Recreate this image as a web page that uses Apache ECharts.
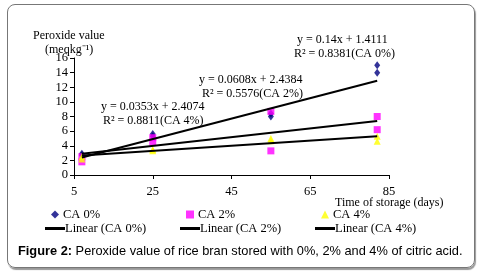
<!DOCTYPE html>
<html>
<head>
<meta charset="utf-8">
<script src="https://cdn.jsdelivr.net/npm/echarts@6/dist/echarts.min.js"></script>
<style>
    body { margin:0; background:#fff; }
    #frame {
        position:absolute; left:7px; top:4px; width:466px; height:262px;
        border:1px solid #777; border-radius:8px;
        box-shadow:1px 2px 1px #999;
    }
    #chart { position:absolute; left:0; top:0; width:483px; height:274px; }
</style>
</head>
<body>
<div id="frame"></div>
<div id="chart"></div>
<script>
// storage days and peroxide values (two replicates per day)
const ca0 = [[7, 2.9], [7, 2.7], [25, 5.6], [25, 5.3], [55, 8.0], [55, 8.4], [82, 15.0], [82, 14.0]];
const ca2 = [[7, 2.5], [7, 1.8], [25, 5.1], [25, 4.5], [55, 8.7], [55, 3.3], [82, 8.0], [82, 6.2]];
const ca4 = [[7, 2.5], [7, 2.2], [25, 3.5], [25, 3.3], [55, 5.0], [55, 4.7], [82, 5.3], [82, 4.6]];

// trend line ends
const fit0 = [[7, 2.4], [82, 12.9]];
const fit2 = [[7, 2.9], [82, 7.4]];
const fit4 = [[7, 2.65], [82, 5.3]];

const xTicks = [5, 25, 45, 65, 85];
const yTicks = [0, 2, 4, 6, 8, 10, 12, 14, 16];

const serif = "Liberation Serif";
const textFont = "12px " + serif;

const chart = echarts.init(document.getElementById("chart"));

function pointLegend(left, name) {
    return {
        left:left,
        top:203,
        itemWidth:8,
        itemHeight:8,
        data:[name],
        textStyle:{fontFamily:serif, fontSize:12.5, color:"#000", padding:[0, 0, 0, -1]}
    };
}

function lineLegend(left, name) {
    return {
        left:left,
        top:217,
        itemWidth:20,
        itemHeight:3,
        data:[{name:name, icon:"rect"}],
        textStyle:{fontFamily:serif, fontSize:12.5, color:"#000", padding:[0, 0, 0, -5]}
    };
}

chart.setOption({

    animation:false,

    grid:{
        left:74,
        right:94,
        top:58,
        bottom:99
    },

    xAxis:{
        type:"value",
        min:xTicks[0],
        max:xTicks[xTicks.length - 1],
        interval:20,
        splitLine:{show:false},
        axisLine:{lineStyle:{color:"#000", width:1}},
        axisTick:{lineStyle:{color:"#000"}, length:4},
        axisLabel:{
            fontFamily:serif,
            fontSize:12.5,
            color:"#000",
            margin:10
        }
    },

    yAxis:{
        type:"value",
        min:yTicks[0],
        max:yTicks[yTicks.length - 1],
        interval:2,
        splitLine:{show:false},
        axisLine:{show:true, lineStyle:{color:"#000", width:1}},
        axisTick:{show:true, lineStyle:{color:"#000"}, length:4},
        axisLabel:{
            fontFamily:serif,
            fontSize:12.5,
            color:"#000",
            margin:6
        }
    },

    legend:[
        pointLegend(46, "CA 0%"),
        pointLegend(181, "CA 2%"),
        pointLegend(316, "CA 4%"),
        lineLegend(40, "Linear (CA 0%)"),
        lineLegend(175, "Linear (CA 2%)"),
        lineLegend(310, "Linear (CA 4%)")
    ],

    graphic:[
        {type:"text", left:33, top:30, style:{text:"Peroxide value", font:textFont, fill:"#000"}},
        {type:"text", left:45, top:44, style:{text:"(meqkg⁻¹)", font:textFont, fill:"#000"}},
        {type:"text", left:335, top:197, style:{text:"Time of storage (days)", font:textFont, fill:"#000"}},

        {type:"text", left:297, top:34, style:{text:"y = 0.14x + 1.4111", font:textFont, fill:"#000"}},
        {type:"text", left:294, top:48, style:{text:"R² = 0.8381(CA 0%)", font:textFont, fill:"#000"}},
        {type:"text", left:199, top:74, style:{text:"y = 0.0608x + 2.4384", font:textFont, fill:"#000"}},
        {type:"text", left:202, top:88, style:{text:"R² = 0.5576(CA 2%)", font:textFont, fill:"#000"}},
        {type:"text", left:101, top:101, style:{text:"y = 0.0353x + 2.4074", font:textFont, fill:"#000"}},
        {type:"text", left:103, top:115, style:{text:"R² = 0.8811(CA 4%)", font:textFont, fill:"#000"}},

        {
            type:"text", left:18, top:245,
            style:{
                text:"{b|Figure 2:} Peroxide value of rice bran stored with 0%, 2% and 4% of citric acid.",
                font:"12.8px Liberation Sans",
                fill:"#000",
                rich:{
                    b:{fontWeight:"bold", fontFamily:"Liberation Sans", fontSize:12.8}
                }
            }
        }
    ],

    series:[
        {
            name:"CA 0%",
            type:"scatter",
            symbol:"diamond",
            symbolSize:[6, 8],
            itemStyle:{color:"#000080"},
            data:ca0,
            z:3
        },
        {
            name:"CA 2%",
            type:"scatter",
            symbol:"rect",
            symbolSize:7,
            itemStyle:{color:"#ff00ff"},
            data:ca2,
            z:3
        },
        {
            name:"CA 4%",
            type:"scatter",
            symbol:"triangle",
            symbolSize:7,
            itemStyle:{color:"#ffff00"},
            data:ca4,
            z:3
        },
        {
            name:"Linear (CA 0%)",
            type:"line",
            symbol:"none",
            lineStyle:{color:"#000", width:2},
            itemStyle:{color:"#000"},
            data:fit0,
            z:4
        },
        {
            name:"Linear (CA 2%)",
            type:"line",
            symbol:"none",
            lineStyle:{color:"#000", width:2},
            itemStyle:{color:"#000"},
            data:fit2,
            z:4
        },
        {
            name:"Linear (CA 4%)",
            type:"line",
            symbol:"none",
            lineStyle:{color:"#000", width:2},
            itemStyle:{color:"#000"},
            data:fit4,
            z:4
        }
    ]
});
</script>
</body>
</html>
